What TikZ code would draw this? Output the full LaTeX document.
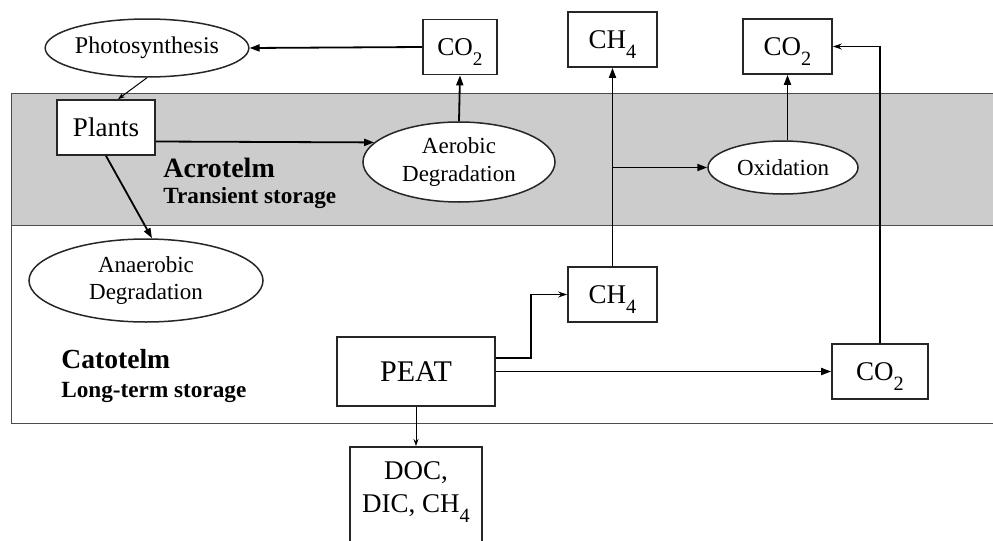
\documentclass[tikz,border=0pt]{standalone}
\usepackage{fontspec}
\setmainfont{Liberation Serif}
\usetikzlibrary{arrows.meta,shapes.geometric,calc}
\newcommand\subs[1]{\smash{\raisebox{-0.85ex}{\scalebox{0.75}{#1}}}}
\begin{document}
\begin{tikzpicture}[x=0.5pt,y=-0.5pt,
  box/.style={draw=black!85, line width=0.85pt, rectangle, inner sep=0pt,
    minimum width=44.5pt, minimum height=27.5pt, fill=white,
    font=\fontsize{13.5}{16}\selectfont},
  ell/.style={draw=black!85, line width=0.75pt, ellipse, inner sep=0pt,
    fill=white, align=center, font=\fontsize{11.5}{13.8}\selectfont},
  lbl/.style={anchor=base west, inner sep=0pt},
  arr/.style={line width=0.9pt, -{Triangle[length=5pt,width=3.5pt]}},
  sarr/.style={line width=0.9pt, -{Stealth[length=4.5pt,width=3pt]}},
  tarr/.style={line width=0.5pt, -{Stealth[length=3.5pt,width=2.5pt]}},
  layer/.style={line width=0.5pt, draw=black!70}]
\clip (0,0) rectangle (993,541);
% layers
\fill[gray!40] (11,93) rectangle (1000,225);
\draw[layer] (1000,93) -- (11,93) -- (11,423) -- (1000,423);
\draw[layer] (11,225) -- (1000,225);
% labels
\node[lbl, font=\bfseries\fontsize{14}{16}\selectfont] (acro) at (163,177) {Acrotelm};
\node[lbl, font=\bfseries\fontsize{11.6}{14}\selectfont] (trans) at (163,203) {Transient storage};
\node[lbl, font=\bfseries\fontsize{13.8}{16}\selectfont] (cato) at (61,368) {Catotelm};
\node[lbl, font=\bfseries\fontsize{11.6}{14}\selectfont] (longt) at (61,397) {Long-term storage};
% nodes
\node[ell, minimum width=97.5pt, minimum height=29pt, font=\fontsize{12}{14}\selectfont] (photo) at (147,48) {Photosynthesis};
\node[box, minimum width=37pt, font=\fontsize{12.8}{15}\selectfont] (co2a) at (460,47) {CO\subs{2}};
\node[box, minimum width=49pt] (plants) at (106,127.5) {Plants};
\node[ell, minimum width=96pt, minimum height=40pt] (aerob) at (459,162) {Aerobic\\Degradation};
\node[box] (ch4a) at (612.5,39.5) {CH\subs{4}};
\node[box] (co2b) at (787.5,46.5) {CO\subs{2}};
\node[ell, minimum width=75pt, minimum height=26.5pt] (oxid) at (783,167.5) {Oxidation};
\node[ell, minimum width=117pt, minimum height=41.5pt] (anaer) at (146,280.5) {Anaerobic\\Degradation};
\node[box] (ch4b) at (612.5,294.5) {CH\subs{4}};
\node[box, minimum width=48pt] (co2c) at (880,371.5) {CO\subs{2}};
\node[box, minimum width=79pt, minimum height=34.5pt, font=\fontsize{15}{18}\selectfont] (peat) at (416,371.5) {PEAT};
\node[box, anchor=north, minimum width=66pt, minimum height=60pt] (doc) at (416,446) {};
\node[align=center, inner sep=0pt, font=\fontsize{13.5}{16.5}\selectfont] (doctext) at (416,489) {DOC,\\DIC, CH\subs{4}};
% connectors
\draw[arr] (co2a.west) -- (photo.east);
\draw[tarr] (photo.south) -- ([xshift=6pt]plants.north);
\draw[arr] ([yshift=-7pt]plants.east) -- (aerob.167);
\draw[arr] (aerob.north) -- (co2a.south);
\draw[arr] (plants.south) -- ([xshift=3pt]anaer.north);
\draw[arr] (ch4b.north) -- (ch4a.south);
\coordinate (br) at (ch4b.north |- oxid.west);
\draw[arr] (br) -- (oxid.west);
\draw[arr] (oxid.north -| co2b.south) -- (co2b.south);
\draw[sarr] (co2c.north) -- (co2c.north |- co2b.east) -- (co2b.east);
\draw[arr] (peat.east) -- (co2c.west);
\draw[sarr] ([yshift=6.75pt]peat.east) -| ($(ch4b.west)+(-18pt,0)$) -- (ch4b.west);
\draw[tarr] (peat.south) -- (doc.north);
\end{tikzpicture}
\end{document}
